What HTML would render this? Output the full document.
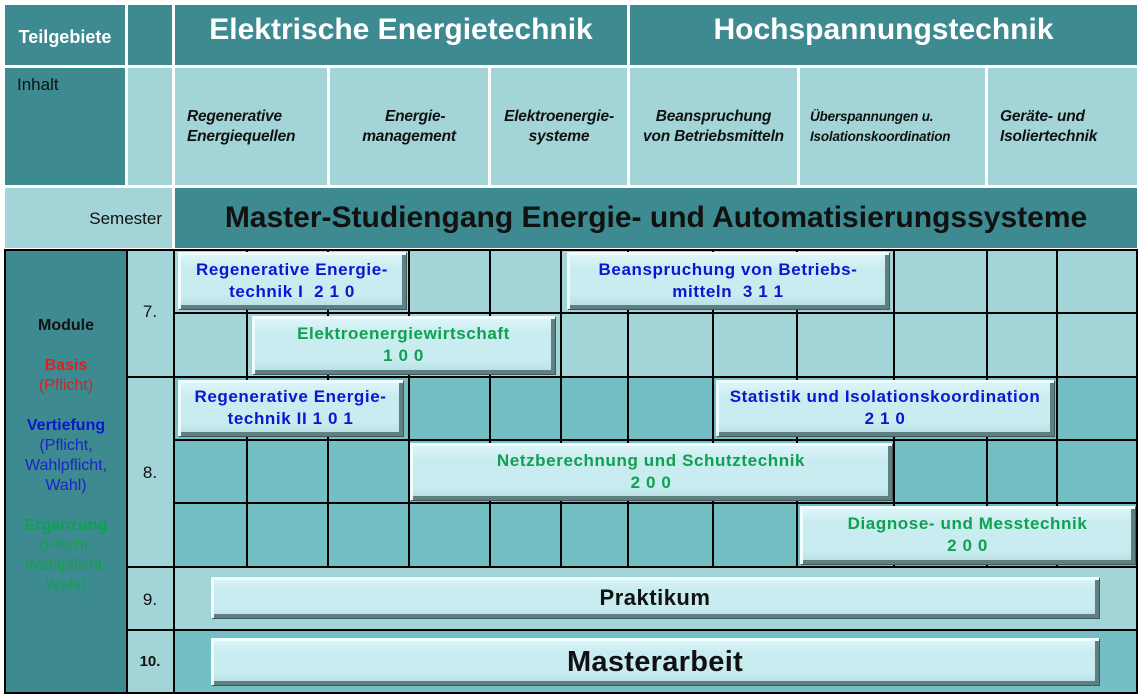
<!DOCTYPE html>
<html><head><meta charset="utf-8"><style>
body{margin:0;width:1141px;height:698px;background:#fff;position:relative;overflow:hidden;font-family:"Liberation Sans",sans-serif}
div{position:absolute;box-sizing:border-box}
.d{background:#3d8a91}.l{background:#a2d4d8}.m{background:#74bfc4}
.t{display:flex;align-items:center;justify-content:center;text-align:center}
.ih{font-weight:bold;font-style:italic;font-size:15.5px;line-height:20px;color:#111;letter-spacing:-0.2px}
.v{background:#000;width:2px}.h{background:#000;height:2px}
.b{background:linear-gradient(#e2f7fa,#c8ecf0 30%,#c8ecf0 75%,#b5dde2);box-shadow:inset 3px 3px 0 #eefcfd,inset -4px -4px 0 #5f7f82,1px 1px 0 #3a5a5c;font-weight:bold;font-size:17px;line-height:22px;letter-spacing:0.6px}
.bl{color:#0b16d0}.g{color:#0fa050}
</style></head><body>
<div class="d t" style="left:5px;top:5px;width:120px;height:60px;color:#fff;font-weight:bold;font-size:18px;padding-top:4px">Teilgebiete</div>
<div class="d" style="left:128px;top:5px;width:44px;height:60px"></div>
<div class="d t" style="left:175px;top:5px;width:452px;height:60px;color:#fff;font-weight:bold;font-size:30px;padding-bottom:10px">Elektrische Energietechnik</div>
<div class="d t" style="left:630px;top:5px;width:507px;height:60px;color:#fff;font-weight:bold;font-size:30px;padding-bottom:10px">Hochspannungstechnik</div>
<div class="d" style="left:5px;top:68px;width:120px;height:117px;color:#111;font-size:17px;padding:7px 12px">Inhalt</div>
<div class="l" style="left:128px;top:68px;width:44px;height:117px"></div>
<div class="l t ih" style="left:175px;top:68px;width:152px;height:117px;justify-content:flex-start;text-align:left;padding-left:12px">Regenerative<br>Energiequellen</div>
<div class="l t ih" style="left:330px;top:68px;width:158px;height:117px">&nbsp;&nbsp;&nbsp;Energie-<br>management</div>
<div class="l t ih" style="left:491px;top:68px;width:136px;height:117px">Elektroenergie-<br>systeme</div>
<div class="l t ih" style="left:630px;top:68px;width:167px;height:117px">Beanspruchung<br>von Betriebsmitteln</div>
<div class="l t ih" style="left:800px;top:68px;width:185px;height:117px;font-size:13.5px;justify-content:flex-start;text-align:left;padding-left:10px">Überspannungen u.<br>Isolationskoordination</div>
<div class="l t ih" style="left:988px;top:68px;width:149px;height:117px;justify-content:flex-start;text-align:left;padding-left:12px">Geräte- und<br>Isoliertechnik</div>
<div class="l" style="left:5px;top:188px;width:167px;height:60px;color:#111;font-size:17px;padding:21px 10px 0 0;text-align:right">Semester</div>
<div class="d t" style="left:175px;top:188px;width:962px;height:60px;color:#111;font-weight:bold;font-size:30px">Master-Studiengang Energie- und Automatisierungssysteme</div>
<div class="d" style="left:5px;top:250px;width:122px;height:443px"></div>
<div class="l" style="left:127px;top:250px;width:48px;height:443px"></div>
<div class="l" style="left:175px;top:250px;width:962px;height:127px"></div>
<div class="m" style="left:175px;top:377px;width:962px;height:190px"></div>
<div class="l" style="left:175px;top:567px;width:962px;height:63px"></div>
<div class="m" style="left:175px;top:630px;width:962px;height:63px"></div>
<div class="h" style="left:5px;top:249px;width:1133px"></div>
<div class="h" style="left:5px;top:692px;width:1133px"></div>
<div class="v" style="left:4px;top:249px;height:445px"></div>
<div class="v" style="left:126px;top:249px;height:445px"></div>
<div class="v" style="left:173px;top:249px;height:445px"></div>
<div class="v" style="left:1136px;top:249px;height:445px"></div>
<div class="h" style="left:127px;top:376px;width:1010px"></div>
<div class="h" style="left:127px;top:566px;width:1010px"></div>
<div class="h" style="left:127px;top:629px;width:1010px"></div>
<div class="h" style="left:175px;top:312px;width:962px"></div>
<div class="h" style="left:175px;top:439px;width:962px"></div>
<div class="h" style="left:175px;top:502px;width:962px"></div>
<div class="v" style="left:246px;top:249px;height:318px"></div>
<div class="v" style="left:327px;top:249px;height:318px"></div>
<div class="v" style="left:408px;top:249px;height:318px"></div>
<div class="v" style="left:489px;top:249px;height:318px"></div>
<div class="v" style="left:560px;top:249px;height:318px"></div>
<div class="v" style="left:627px;top:249px;height:318px"></div>
<div class="v" style="left:712px;top:249px;height:318px"></div>
<div class="v" style="left:796px;top:249px;height:318px"></div>
<div class="v" style="left:893px;top:249px;height:318px"></div>
<div class="v" style="left:986px;top:249px;height:318px"></div>
<div class="v" style="left:1056px;top:249px;height:318px"></div>
<div style="left:127px;top:302px;width:46px;text-align:center;font-size:17px;color:#111">7.</div>
<div style="left:127px;top:463px;width:46px;text-align:center;font-size:17px;color:#111">8.</div>
<div style="left:127px;top:590px;width:46px;text-align:center;font-size:17px;color:#111">9.</div>
<div style="left:127px;top:653px;width:46px;text-align:center;font-size:15px;font-weight:bold;color:#111">10.</div>
<div style="left:5px;top:316px;width:122px;text-align:center;font-size:16px;line-height:20px">
<b style="color:#111">Module</b><br><br>
<b style="color:#e02020">Basis</b><br><span style="color:#c82828">(Pflicht)</span><br><br>
<b style="color:#0b16d0">Vertiefung</b><br><span style="color:#1a24c8">(Pflicht,<br>Wahlpflicht,<br>Wahl)</span><br><br>
<b style="color:#0fa050">Ergänzung</b><br><span style="color:#15a050">(Pflicht,<br>Wahlpflicht,<br>Wahl)</span></div>
<div class="b t bl" style="left:178px;top:252px;width:228px;height:57px">Regenerative Energie-<br>technik I&nbsp; 2 1 0</div>
<div class="b t bl" style="left:567px;top:252px;width:322px;height:57px">Beanspruchung von Betriebs-<br>mitteln&nbsp; 3 1 1</div>
<div class="b t g" style="left:252px;top:316px;width:303px;height:58px">Elektroenergiewirtschaft<br>1 0 0</div>
<div class="b t bl" style="left:178px;top:380px;width:225px;height:56px">Regenerative Energie-<br>technik II 1 0 1</div>
<div class="b t bl" style="left:716px;top:380px;width:338px;height:56px">Statistik und Isolationskoordination<br>2 1 0</div>
<div class="b t g" style="left:410px;top:443px;width:482px;height:57px">Netzberechnung und Schutztechnik<br>2 0 0</div>
<div class="b t g" style="left:800px;top:506px;width:335px;height:58px">Diagnose- und Messtechnik<br>2 0 0</div>
<div class="b t" style="left:211px;top:577px;width:888px;height:41px;color:#111;font-size:22px;font-weight:bold;letter-spacing:0.5px">Praktikum</div>
<div class="b t" style="left:211px;top:638px;width:888px;height:47px;color:#111;font-size:29px;font-weight:bold;letter-spacing:0.3px">Masterarbeit</div>
</body></html>
